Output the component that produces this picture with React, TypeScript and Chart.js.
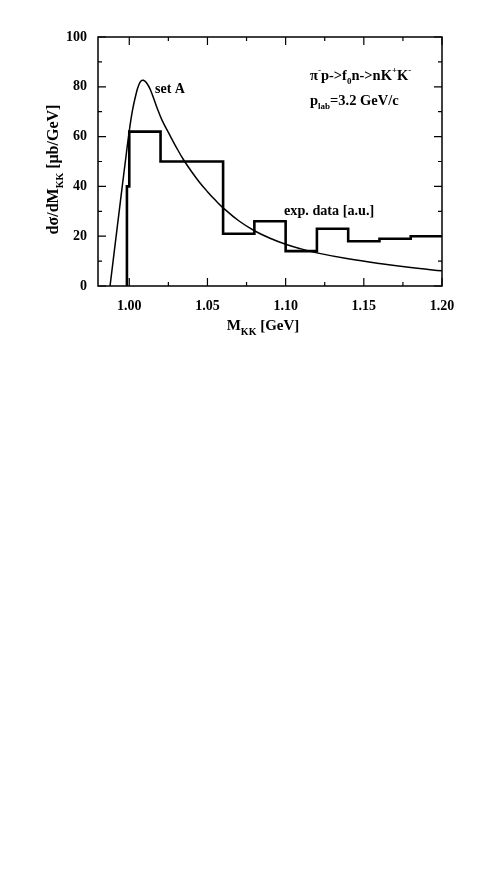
import { useEffect, useRef } from "react";
import { Chart, registerables } from "chart.js";
Chart.register(...registerables);

// "set A" model curve
const curveX = [0.9877, 0.9916, 0.9955, 0.9975, 0.9994, 1.0019, 1.0045, 1.006, 1.0075, 1.009, 1.011, 1.0135, 1.0175, 1.021, 1.026, 1.030, 1.0346, 1.040, 1.045, 1.050, 1.055, 1.060, 1.070, 1.080, 1.090, 1.100, 1.110, 1.120, 1.140, 1.160, 1.180, 1.200];
const curveY = [0, 20, 40, 50, 59.5, 70, 77.5, 80.6, 82.3, 82.6, 81.6, 78.8, 72, 66.5, 60.5, 55.8, 50.8, 45.8, 41.6, 37.9, 34.5, 31.4, 26.2, 22.2, 19.2, 16.8, 14.9, 13.3, 10.9, 9.0, 7.4, 6.1];

// experimental histogram
const binEdges = [0.9985, 1.0, 1.02, 1.06, 1.08, 1.10, 1.12, 1.14, 1.16, 1.18, 1.20];
const binValues = [40, 62, 50, 21, 26, 14, 23, 18, 19, 20];

const xTicks = [1.0, 1.05, 1.1, 1.15, 1.2];
const yTicks = [0, 20, 40, 60, 80, 100];
const xMinor = [1.025, 1.075, 1.125, 1.175];
const yMinor = [10, 30, 50, 70, 90];

const FONT = '"Liberation Serif", "DejaVu Serif", serif';

function drawRich(ctx: CanvasRenderingContext2D, parts: { t: string; k?: "sub" | "sup" }[], x: number, y: number, size: number, align: "left" | "center" = "left") {
  const widths = parts.map((p) => {
    ctx.font = `bold ${p.k ? Math.round(size * 0.65) : size}px ${FONT}`;
    return ctx.measureText(p.t).width;
  });
  const total = widths.reduce((a, b) => a + b, 0);
  let cx = align === "center" ? x - total / 2 : x;
  ctx.textAlign = "left";
  ctx.textBaseline = "alphabetic";
  parts.forEach((p, i) => {
    ctx.font = `bold ${p.k ? Math.round(size * 0.65) : size}px ${FONT}`;
    let dy = 0;
    if (p.k === "sub") dy = size * 0.3;
    if (p.k === "sup") dy = -size * 0.45;
    ctx.fillText(p.t, cx, y + dy);
    cx += widths[i];
  });
}

const decor = {
  id: "decor",
  afterDraw(chart: any) {
    const ctx = chart.ctx as CanvasRenderingContext2D;
    const { left, right, top, bottom } = chart.chartArea;
    const xs = chart.scales.x;
    const ys = chart.scales.y;
    ctx.save();
    ctx.strokeStyle = "#000";
    ctx.fillStyle = "#000";
    ctx.lineWidth = 1.5;
    ctx.strokeRect(left, top, right - left, bottom - top);
    ctx.lineWidth = 1.2;
    const tick = (v: number, len: number, axis: "x" | "y") => {
      ctx.beginPath();
      if (axis === "x") {
        const p = xs.getPixelForValue(v);
        ctx.moveTo(p, bottom); ctx.lineTo(p, bottom - len);
        ctx.moveTo(p, top); ctx.lineTo(p, top + len);
      } else {
        const p = ys.getPixelForValue(v);
        ctx.moveTo(left, p); ctx.lineTo(left + len, p);
        ctx.moveTo(right, p); ctx.lineTo(right - len, p);
      }
      ctx.stroke();
    };
    xTicks.forEach((v) => tick(v, 8, "x"));
    xMinor.forEach((v) => tick(v, 4, "x"));
    yTicks.forEach((v) => tick(v, 8, "y"));
    yMinor.forEach((v) => tick(v, 4, "y"));

    // axis titles
    drawRich(ctx, [{ t: "M" }, { t: "KK", k: "sub" }, { t: " [GeV]" }], 263, 330, 15, "center");
    ctx.save();
    ctx.translate(58, (top + bottom) / 2 + 8);
    ctx.rotate(-Math.PI / 2);
    drawRich(ctx, [{ t: "dσ/dM" }, { t: "KK", k: "sub" }, { t: " [μb/GeV]" }], 0, 0, 16, "center");
    ctx.restore();

    // annotations
    drawRich(ctx, [{ t: "set A" }], 155, 93, 14);
    drawRich(ctx, [{ t: "π" }, { t: "-", k: "sup" }, { t: "p->f" }, { t: "0", k: "sub" }, { t: "n->nK" }, { t: "+", k: "sup" }, { t: "K" }, { t: "-", k: "sup" }], 310, 80, 14.5);
    drawRich(ctx, [{ t: "p" }, { t: "lab", k: "sub" }, { t: "=3.2 GeV/c" }], 310, 105, 14.5);
    drawRich(ctx, [{ t: "exp. data [a.u.]" }], 284, 215, 14.2);
    ctx.restore();
  },
};

export default function App() {
  const ref = useRef<HTMLCanvasElement | null>(null);
  useEffect(() => {
    if (!ref.current) return;
    const histPts: { x: number; y: number }[] = [{ x: binEdges[0], y: 0 }];
    binValues.forEach((v, i) => {
      histPts.push({ x: binEdges[i], y: v });
      histPts.push({ x: binEdges[i + 1], y: v });
    });
    const curvePts = curveX.map((x, i) => ({ x, y: curveY[i] }));
    const tickFont = { family: FONT, size: 14, weight: "bold" as const };
    const chart = new Chart(ref.current, {
      type: "line",
      data: {
        datasets: [
          { data: curvePts, borderColor: "#000", borderWidth: 1.5, pointRadius: 0, tension: 0.4, fill: false },
          { data: histPts, borderColor: "#000", borderWidth: 2.6, pointRadius: 0, tension: 0, fill: false, borderJoinStyle: "miter" },
        ],
      },
      options: {
        animation: false,
        responsive: false,
        events: [],
        layout: { padding: 0 },
        plugins: { legend: { display: false }, tooltip: { enabled: false } },
        scales: {
          x: {
            type: "linear", position: "bottom", min: 0.98, max: 1.2,
            afterBuildTicks: (s: any) => { s.ticks = xTicks.map((v) => ({ value: v })); },
            afterFit: (s: any) => { s.height = 64; },
            ticks: { font: tickFont, color: "#000", padding: 12, maxRotation: 0, callback: (v: any) => Number(v).toFixed(2) },
            grid: { display: false, drawTicks: false },
            border: { display: false },
          },
          x2: {
            type: "linear", position: "top", min: 0.98, max: 1.2,
            afterFit: (s: any) => { s.height = 37; },
            ticks: { display: false },
            grid: { display: false, drawTicks: false },
            border: { display: false },
          },
          y: {
            type: "linear", position: "left", min: 0, max: 100,
            afterBuildTicks: (s: any) => { s.ticks = yTicks.map((v) => ({ value: v })); },
            afterFit: (s: any) => { s.width = 98; },
            ticks: { font: tickFont, color: "#000", padding: 11 },
            grid: { display: false, drawTicks: false },
            border: { display: false },
          },
          y2: {
            type: "linear", position: "right", min: 0, max: 100,
            afterFit: (s: any) => { s.width = 49; },
            ticks: { display: false },
            grid: { display: false, drawTicks: false },
            border: { display: false },
          },
        },
      } as any,
      plugins: [decor],
    });
    return () => chart.destroy();
  }, []);
  return (
    <div style={{ position: "absolute", left: 0, top: 0, width: 491, height: 350 }}>
      <canvas ref={ref} width={491} height={350} style={{ width: 491, height: 350, display: "block" }} />
    </div>
  );
}
